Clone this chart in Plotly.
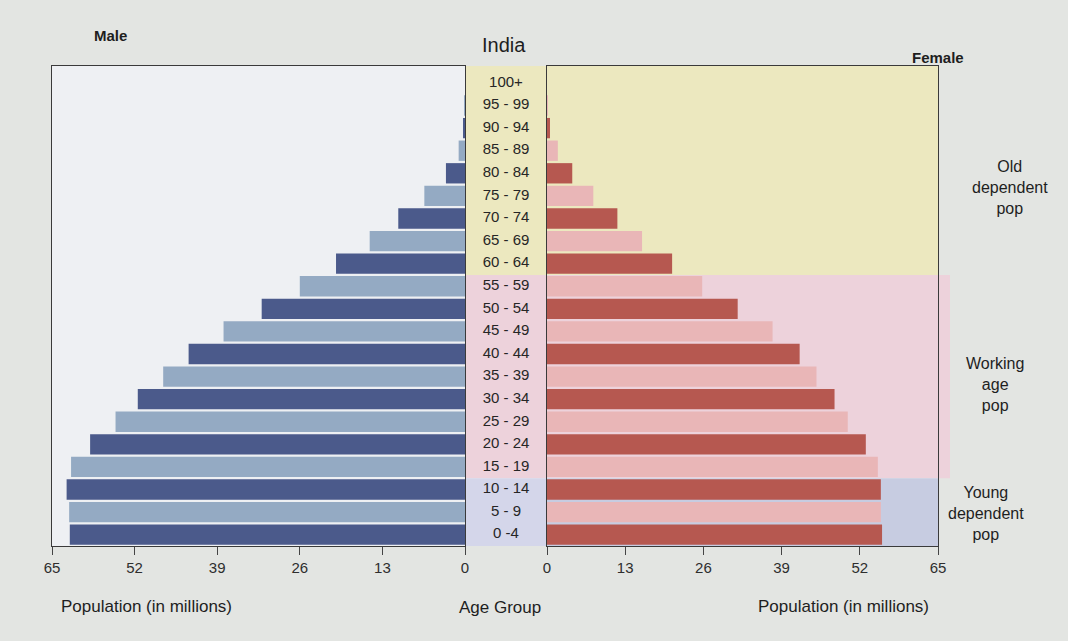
import plotly.graph_objects as go

# age groups, bottom to top
AGE_GROUPS = ["0 -4", "5 - 9", "10 - 14", "15 - 19", "20 - 24", "25 - 29", "30 - 34",
              "35 - 39", "40 - 44", "45 - 49", "50 - 54", "55 - 59", "60 - 64",
              "65 - 69", "70 - 74", "75 - 79", "80 - 84", "85 - 89", "90 - 94",
              "95 - 99", "100+"]
MALE = [62.2, 62.3, 62.7, 62.0, 59.0, 55.0, 51.5, 47.5, 43.5, 38.0, 32.0,
        26.0, 20.3, 15.0, 10.5, 6.4, 3.0, 1.0, 0.2, 0.05, 0.0]
FEMALE = [55.7, 55.5, 55.5, 55.0, 53.0, 50.0, 47.8, 44.8, 42.0, 37.5, 31.7,
          25.8, 20.8, 15.8, 11.7, 7.7, 4.2, 1.8, 0.5, 0.1, 0.0]
TICKS = [0, 13, 26, 39, 52, 65]
GROUP_NOTES = ["Old<br>dependent<br>pop", "Working<br>age<br>pop", "Young<br>dependent<br>pop"]

W, H = 1068, 641
FONT = "Liberation Sans, Arial, sans-serif"
MALE_DARK, MALE_LIGHT = "#4b5a8b", "#94aac3"
FEM_DARK, FEM_LIGHT = "#b65850", "#e9b6b7"
YELLOW, PINK, LAVENDER, BLUE = "#ece8bf", "#edd2db", "#d4d6ea", "#c7cce1"
PAGE = "#e3e5e2"


def px_x(p):
    return p / W


def px_y(p):
    return 1 - p / H


male_colors = [MALE_DARK if i % 2 == 0 else MALE_LIGHT for i in range(len(AGE_GROUPS))]
fem_colors = [FEM_DARK if i % 2 == 0 else FEM_LIGHT for i in range(len(AGE_GROUPS))]

fig = go.Figure()
fig.add_trace(go.Bar(x=MALE, y=AGE_GROUPS, orientation="h", marker_color=male_colors,
                     marker_line_width=0, xaxis="x", yaxis="y", showlegend=False))
fig.add_trace(go.Bar(x=FEMALE, y=AGE_GROUPS, orientation="h", marker_color=fem_colors,
                     marker_line_width=0, xaxis="x3", yaxis="y2", showlegend=False))
fig.add_trace(go.Scatter(x=[0] * len(AGE_GROUPS), y=AGE_GROUPS, mode="text", text=AGE_GROUPS,
                         textfont=dict(family=FONT, size=15, color="#262626"),
                         xaxis="x2", yaxis="y3", showlegend=False))

y_dom = [px_y(546), px_y(66)]
y_range = [-0.5, 20.75]
yax = dict(domain=y_dom, range=y_range, type="category", categoryarray=AGE_GROUPS,
           showticklabels=False, ticks="", showgrid=False, zeroline=False, automargin=False)
xax = dict(tickvals=TICKS, ticktext=[str(t) for t in TICKS], ticks="outside", ticklen=8,
           tickcolor="#444", showgrid=False, zeroline=False, showline=True,
           linecolor="#3a3a3a", linewidth=1, mirror=True, automargin=False,
           tickfont=dict(family=FONT, size=15, color="#2e2e2e"))

fig.update_layout(
    width=W, height=H,
    margin=dict(l=0, r=0, t=0, b=0),
    paper_bgcolor=PAGE,
    plot_bgcolor="#eef0f3",
    bargap=0.1,
    xaxis=dict(xax, domain=[px_x(52), px_x(465)], range=[65, 0], anchor="y"),
    xaxis2=dict(domain=[px_x(465), px_x(547)], range=[-1, 1], visible=False, anchor="y3"),
    xaxis3=dict(xax, domain=[px_x(547), px_x(938)], range=[0, 65], anchor="y2"),
    yaxis=dict(yax, anchor="x", showline=True, linecolor="#3a3a3a", mirror=True),
    yaxis2=dict(yax, anchor="x3", showline=True, linecolor="#3a3a3a", mirror=True),
    yaxis3=dict(yax, anchor="x2", showline=False),
)

# background bands for the middle and female panels
bands = [
    (465, 547, 11.5, 20.75, YELLOW), (465, 547, 2.5, 11.5, PINK), (465, 547, -0.5, 2.5, LAVENDER),
    (547, 938, 11.5, 20.75, YELLOW), (547, 938, 2.5, 11.5, PINK), (547, 938, -0.5, 2.5, BLUE),
]
for x0, x1, y0, y1, col in bands:
    fig.add_shape(type="rect", xref="paper", yref="y", x0=px_x(x0), x1=px_x(x1), y0=y0, y1=y1,
                  fillcolor=col, line_width=0, layer="below")
# pink strip to the right of the female panel in the working-age rows
fig.add_shape(type="rect", xref="paper", yref="y", x0=px_x(938), x1=px_x(950), y0=2.5, y1=11.5,
              fillcolor=PINK, line_width=0, layer="below")


def note(text, x, y, size=13):
    fig.add_annotation(text=text, x=px_x(x), y=px_y(y), xref="paper", yref="paper",
                       xanchor="center", yanchor="middle", showarrow=False,
                       font=dict(family=FONT, size=size, color="#1e1e1e"))


note("<b>Male</b>", 110, 35, 15)
note("India", 504, 45, 20)
note("<b>Female</b>", 938, 57, 15)
note(GROUP_NOTES[0], 1010, 188, 16)
note(GROUP_NOTES[1], 995, 384, 16)
note(GROUP_NOTES[2], 986, 513, 16)
note("Population (in millions)", 146, 606, 17)
note("Age Group", 500, 607, 17)
note("Population (in millions)", 843, 606, 17)

fig.write_html(
    "out.html",
    config={"displayModeBar": False},
    post_script=f"document.body.style.margin='0';document.body.style.background='{PAGE}';",
)
